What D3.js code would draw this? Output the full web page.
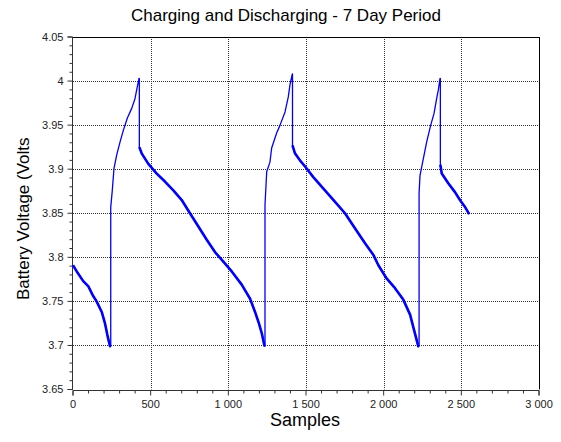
<!DOCTYPE html>
<html>
<head>
<meta charset="utf-8">
<script src="https://cdn.jsdelivr.net/npm/d3@7"></script>
<style>
  html, body { margin: 0; padding: 0; background: #fff; }
  svg { display: block; font-family: "Liberation Sans", Arial, sans-serif; }
</style>
</head>
<body>
<svg id="chart" width="561" height="442"></svg>
<script>
// Battery voltage readings (sample index, volts), one array per phase
const discharge1 = [[0,3.791],[24,3.784],[66,3.773],[99,3.767],[127,3.757],[152,3.750],[185,3.738],[206,3.725],[221,3.712],[238,3.699],[243,3.699]];
const charge1 = [[243,3.699],[243,3.857],[253,3.876],[264,3.901],[281,3.916],[303,3.931],[324,3.944],[350,3.958],[378,3.969],[399,3.980],[410,3.990],[425,4.003],[427,4.003],[427,3.925]];
const discharge2 = [[427,3.925],[442,3.918],[485,3.906],[539,3.895],[592,3.886],[646,3.876],[700,3.865],[753,3.850],[807,3.835],[861,3.820],[914,3.806],[968,3.795],[1022,3.784],[1086,3.769],[1140,3.753],[1172,3.738],[1197,3.725],[1215,3.714],[1232,3.700],[1236,3.699]];
const charge2 = [[1236,3.699],[1236,3.859],[1247,3.897],[1268,3.908],[1279,3.924],[1311,3.941],[1333,3.950],[1365,3.965],[1386,3.982],[1397,3.996],[1412,4.008],[1413,4.008],[1413,3.927]];
const discharge3 = [[1413,3.927],[1429,3.918],[1461,3.910],[1494,3.903],[1547,3.891],[1622,3.876],[1687,3.863],[1751,3.850],[1815,3.833],[1880,3.816],[1933,3.803],[1966,3.791],[2019,3.776],[2073,3.765],[2126,3.752],[2170,3.735],[2195,3.718],[2223,3.699],[2228,3.699]];
const charge3 = [[2228,3.699],[2228,3.873],[2234,3.893],[2251,3.908],[2277,3.931],[2303,3.950],[2324,3.963],[2341,3.980],[2352,3.990],[2363,4.003],[2365,4.003],[2365,3.905]];
const discharge4 = [[2365,3.905],[2374,3.895],[2416,3.884],[2459,3.874],[2491,3.865],[2524,3.857],[2551,3.849]];

const xTicks = [0, 500, 1000, 1500, 2000, 2500, 3000];
const yTicks = [3.65, 3.7, 3.75, 3.8, 3.85, 3.9, 3.95, 4.0, 4.05];

const titleText = "Charging and Discharging - 7 Day Period";
const xLabel = "Samples";
const yLabel = "Battery Voltage (Volts";

const svg = d3.select("#chart");
const plot = { left: 73, right: 539, top: 37, bottom: 389.5 };

const x = d3.scaleLinear().domain([0, 3000]).range([plot.left, plot.right]);
const y = d3.scaleLinear().domain([3.65, 4.05]).range([plot.bottom, plot.top]);

const spaced = d3.formatLocale({ decimal: ".", thousands: " ", grouping: [3], currency: ["", ""] }).format(",");

// dotted grid
const grid = svg.append("g");
grid.selectAll("line.v").data(xTicks.slice(1, -1)).join("line")
  .attr("x1", d => Math.round(x(d)) + 0.5).attr("x2", d => Math.round(x(d)) + 0.5)
  .attr("y1", plot.top).attr("y2", plot.bottom)
  .attr("stroke", "#333").attr("stroke-dasharray", "1,1");
grid.selectAll("line.h").data(yTicks.slice(1, -1)).join("line")
  .attr("y1", d => Math.round(y(d)) + 0.5).attr("y2", d => Math.round(y(d)) + 0.5)
  .attr("x1", plot.left).attr("x2", plot.right)
  .attr("stroke", "#333").attr("stroke-dasharray", "1,1");

// frame: top and right borders
svg.append("line").attr("x1", plot.left).attr("x2", plot.right + 0.5)
  .attr("y1", plot.top + 0.5).attr("y2", plot.top + 0.5).attr("stroke", "#000");
svg.append("line").attr("x1", plot.right + 0.5).attr("x2", plot.right + 0.5)
  .attr("y1", plot.top).attr("y2", plot.bottom).attr("stroke", "#000");

// axes with minor ticks
const xMinor = d3.range(0, 3001, 100).filter(v => v % 500 !== 0);
const yMinor = d3.range(0, 41).map(i => +(3.65 + i * 0.01).toFixed(2)).filter(v => !yTicks.some(t => Math.abs(t - v) < 1e-6));

const xAxisG = svg.append("g").attr("transform", `translate(0,${Math.round(plot.bottom) + 0.5})`)
  .call(d3.axisBottom(x).tickValues(xTicks).tickFormat(spaced).tickSize(5).tickPadding(5).offset(0));
xAxisG.append("g").selectAll("line").data(xMinor).join("line")
  .attr("x1", d => x(d)).attr("x2", d => x(d)).attr("y1", 0).attr("y2", 3).attr("stroke", "#333");

const yAxisG = svg.append("g").attr("transform", `translate(${Math.round(plot.left) - 0.5},0)`)
  .call(d3.axisLeft(y).tickValues(yTicks).tickFormat(d => String(+d.toFixed(2))).tickSize(5).tickPadding(4).offset(0));
yAxisG.append("g").selectAll("line").data(yMinor).join("line")
  .attr("y1", d => y(d)).attr("y2", d => y(d)).attr("x1", 0).attr("x2", -3).attr("stroke", "#333");

[xAxisG, yAxisG].forEach(g => {
  g.select(".domain").attr("stroke", "#333");
  g.selectAll(".tick line").attr("stroke", "#333");
  g.selectAll(".tick text").attr("fill", "#222").attr("font-size", 11)
    .attr("font-family", "'Liberation Sans', Arial, sans-serif");
});

// voltage trace
const line = d3.line().x(d => x(d[0])).y(d => y(d[1]));
const allPoints = [].concat(discharge1, charge1, discharge2, charge2, discharge3, charge3, discharge4);
svg.append("path").attr("d", line(allPoints))
  .attr("fill", "none").attr("stroke", "#0000ff").attr("stroke-width", 1.3).attr("stroke-linejoin", "round");
[discharge1, discharge2, discharge3, discharge4].forEach(seg => {
  svg.append("path").attr("d", line(seg))
    .attr("fill", "none").attr("stroke", "#0000ff").attr("stroke-width", 2.6).attr("stroke-linejoin", "round");
});

// titles
svg.append("text").attr("x", 286).attr("y", 21).attr("text-anchor", "middle")
  .attr("font-size", 17).attr("fill", "#000").text(titleText);
svg.append("text").attr("x", 305).attr("y", 426).attr("text-anchor", "middle")
  .attr("font-size", 18).attr("fill", "#000").text(xLabel);
svg.append("text").attr("transform", "translate(29,300) rotate(-90)").attr("text-anchor", "start")
  .attr("font-size", 17).attr("fill", "#000").text(yLabel);
</script>
</body>
</html>
